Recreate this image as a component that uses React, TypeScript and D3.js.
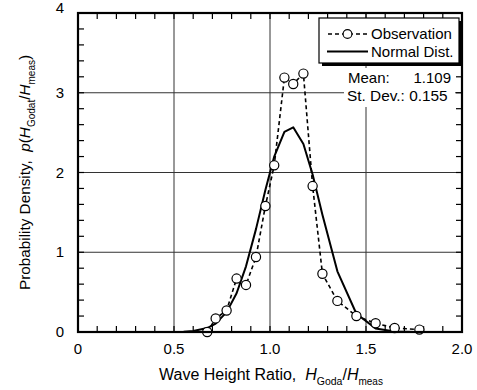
import React from "react";
import * as d3 from "d3";

const obsX = [0.673, 0.717, 0.774, 0.826, 0.875, 0.927, 0.976, 1.022, 1.075, 1.121, 1.174, 1.222, 1.273, 1.351, 1.45, 1.55, 1.649, 1.778];
const obsY = [0.0, 0.17, 0.27, 0.67, 0.59, 0.94, 1.58, 2.09, 3.19, 3.11, 3.24, 1.83, 0.73, 0.39, 0.2, 0.11, 0.05, 0.03];

const normX = [0.5, 0.55, 0.6, 0.673, 0.717, 0.774, 0.826, 0.875, 0.927, 0.976, 1.022, 1.075, 1.121, 1.174, 1.222, 1.273, 1.351, 1.45, 1.55, 1.649, 1.7, 1.75];
const normY = [0.001, 0.004, 0.012, 0.049, 0.105, 0.249, 0.486, 0.823, 1.29, 1.78, 2.2, 2.51, 2.567, 2.358, 1.974, 1.47, 0.761, 0.229, 0.045, 0.006, 0.002, 0.0005];

const xTicks = [0, 0.5, 1.0, 1.5, 2.0];
const xTickLabels = ["0", "0.5", "1.0", "1.5", "2.0"];
const yTicks = [0, 1, 2, 3, 4];
const yTickLabels = ["0", "1", "2", "3", "4"];
const xMinor = d3.range(0, 21).map((i) => i / 10);
const yMinor = d3.range(0, 21).map((i) => i / 5);

const FONT = "'Liberation Sans', Arial, Helvetica, sans-serif";

export default function App() {
  const L = 78, R = 462, T = 13, B = 332;
  const x = d3.scaleLinear().domain([0, 2]).range([L, R]);
  const y = d3.scaleLinear().domain([0, 4]).range([B, T]);
  const line = d3.line<[number, number]>().x((d) => x(d[0])).y((d) => y(d[1]));
  const obsPts = obsX.map((v, i) => [v, obsY[i]] as [number, number]);
  const normPts = normX.map((v, i) => [v, normY[i]] as [number, number]);
  const tl = 6;

  return (
    <svg width={477} height={390} style={{ position: "absolute", left: 0, top: 0, background: "#fff" }} fontFamily={FONT}>
      {/* grid */}
      {[0.5, 1.0, 1.5].map((v) => (
        <line key={"gx" + v} x1={x(v)} x2={x(v)} y1={T} y2={B} stroke="#333" strokeWidth={1} />
      ))}
      {[1, 2, 3].map((v) => (
        <line key={"gy" + v} x1={L} x2={R} y1={y(v)} y2={y(v)} stroke="#333" strokeWidth={1} />
      ))}
      {/* white box behind stats */}
      <rect x={344} y={68} width={111} height={39} fill="#fff" />
      {/* minor ticks */}
      {xMinor.map((v) => (
        <g key={"tx" + v}>
          <line x1={x(v)} x2={x(v)} y1={B} y2={B - tl} stroke="#000" strokeWidth={1.2} />
          <line x1={x(v)} x2={x(v)} y1={T} y2={T + tl} stroke="#000" strokeWidth={1.2} />
        </g>
      ))}
      {yMinor.map((v) => (
        <g key={"ty" + v}>
          <line x1={L} x2={L + tl} y1={y(v)} y2={y(v)} stroke="#000" strokeWidth={1.2} />
          <line x1={R} x2={R - tl} y1={y(v)} y2={y(v)} stroke="#000" strokeWidth={1.2} />
        </g>
      ))}
      {/* normal curve */}
      <path d={line(normPts) || ""} fill="none" stroke="#000" strokeWidth={2} strokeLinejoin="round" />
      {/* observation */}
      <path d={line(obsPts) || ""} fill="none" stroke="#000" strokeWidth={1.6} strokeDasharray="4,3" />
      {obsPts.map((p, i) => (
        <circle key={"o" + i} cx={x(p[0])} cy={y(p[1])} r={4.6} fill="#fff" stroke="#000" strokeWidth={1.2} />
      ))}
      {/* frame */}
      <rect x={L} y={T} width={R - L} height={B - T} fill="none" stroke="#000" strokeWidth={2.2} />
      {/* tick labels */}
      {xTicks.map((v, i) => (
        <text key={"xl" + v} x={x(v)} y={354} textAnchor="middle" fontSize={15}>{xTickLabels[i]}</text>
      ))}
      {yTicks.map((v, i) => (
        <text key={"yl" + v} x={64} y={v === 4 ? 13 : y(v) + 5} textAnchor="end" fontSize={15}>{yTickLabels[i]}</text>
      ))}
      {/* axis titles */}
      <text x={271} y={380} textAnchor="middle" fontSize={16}>
        <tspan>Wave Height Ratio,{"\u00a0\u00a0"}</tspan>
        <tspan fontStyle="italic" fontSize={16}>H</tspan>
        <tspan fontSize={10.5} dy={5}>Goda</tspan>
        <tspan dy={-5} fontSize={16}>/</tspan>
        <tspan fontStyle="italic" fontSize={16}>H</tspan>
        <tspan fontSize={10} dy={5}>meas</tspan>
      </text>
      <text transform={`translate(30,${(T + B) / 2}) rotate(-90)`} textAnchor="middle" fontSize={15.3}>
        <tspan>Probability Density,{"\u00a0\u00a0"}</tspan>
        <tspan fontStyle="italic">p</tspan>
        <tspan>(</tspan>
        <tspan fontStyle="italic">H</tspan>
        <tspan fontSize={10} dy={5}>Godat</tspan>
        <tspan dy={-5}>/</tspan>
        <tspan fontStyle="italic">H</tspan>
        <tspan fontSize={10} dy={5}>meas</tspan>
        <tspan dy={-5}>)</tspan>
      </text>
      {/* legend */}
      <rect x={322} y={21} width={140} height={45} fill="#000" />
      <rect x={319} y={18} width={140} height={45} fill="#fff" stroke="#000" strokeWidth={1.2} />
      <line x1={328} x2={367} y1={34} y2={34} stroke="#000" strokeWidth={1.4} strokeDasharray="4,3" />
      <circle cx={347.5} cy={34} r={4.4} fill="#fff" stroke="#000" strokeWidth={1.1} />
      <text x={371} y={39} fontSize={15}>Observation</text>
      <line x1={327} x2={368} y1={51.5} y2={51.5} stroke="#000" strokeWidth={1.8} />
      <text x={371} y={57} fontSize={15}>Normal Dist.</text>
      {/* stats */}
      <text x={348} y={83} fontSize={15}>Mean:</text>
      <text x={451} y={83} fontSize={15} textAnchor="end">1.109</text>
      <text x={347} y={101} fontSize={15.4}>St. Dev.: 0.155</text>
    </svg>
  );
}
